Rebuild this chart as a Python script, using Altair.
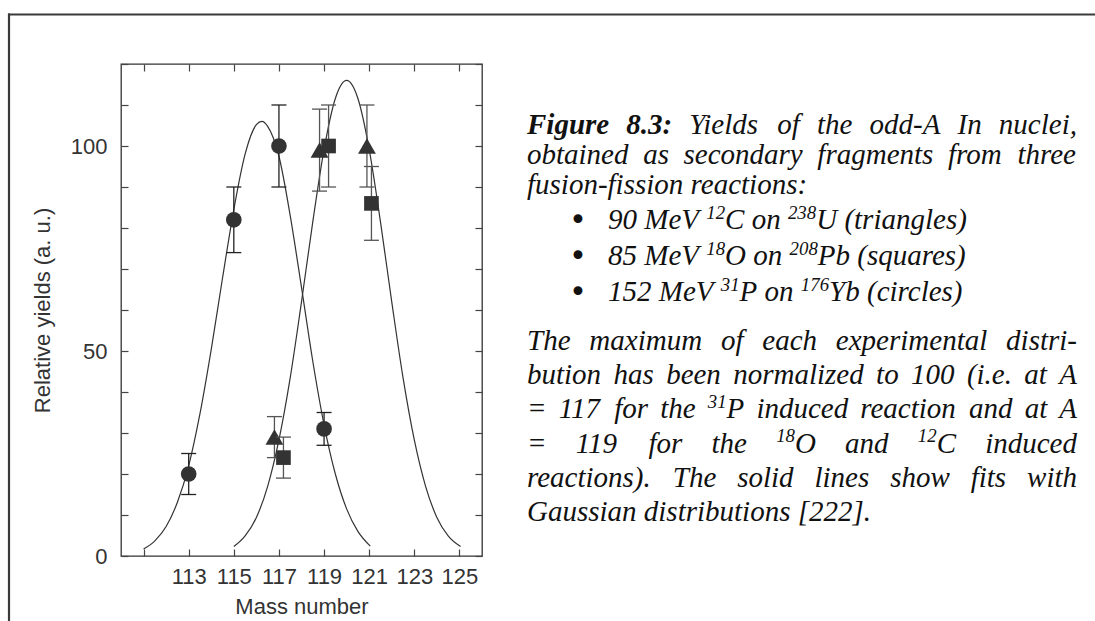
import altair as alt
import pandas as pd

# ---------------- data ----------------
circ_mass = [113, 115, 117, 119]
circ_yield = [20, 82, 100, 31]
circ_lo = [15, 74, 90, 27]
circ_hi = [25, 90, 110, 35]

tri_mass = [116.8, 118.8, 120.9]
tri_yield = [29, 99, 100]
tri_lo = [24, 89, 90]
tri_hi = [34, 109, 110]

sq_mass = [117.2, 119.2, 121.1]
sq_yield = [24, 100, 86]
sq_lo = [19, 90, 77]
sq_hi = [29, 110, 95]

fit_p_mass = [111.0, 111.5, 112.0, 112.5, 113.0, 113.5, 114.0, 114.5, 115.0, 115.5, 116.0,
              116.25, 116.5, 117.0, 117.5, 118.0, 118.5, 119.0, 119.5, 120.0, 120.5, 121.05]
fit_p_yield = [1.7, 3.7, 7.2, 13.1, 22.0, 34.7, 50.4, 67.8, 84.5, 98.0, 105.2,
               106.0, 104.8, 97.5, 83.0, 65.5, 47.5, 32.0, 20.0, 11.5, 6.0, 2.4]

fit_oc_mass = [115.0, 115.5, 116.0, 116.5, 117.0, 117.5, 118.0, 118.5, 119.0, 119.5, 120.0,
               120.5, 121.0, 121.5, 122.0, 122.5, 123.0, 123.5, 124.0, 124.5, 125.05]
fit_oc_yield = [2.3, 4.9, 9.4, 17.0, 28.3, 43.5, 62.0, 81.5, 99.2, 111.6, 116.0,
                111.6, 99.2, 81.5, 62.0, 43.5, 28.3, 17.0, 9.4, 4.9, 2.3]

x_ticks = [111, 113, 115, 117, 119, 121, 123, 125]
x_hidden_labels = [111]
y_ticks = [0, 10, 20, 30, 40, 50, 60, 70, 80, 90, 100, 110, 120]
y_labels = [0, 50, 100]
x_domain = [110, 126]
y_domain = [0, 120]

x_title = "Mass number"
y_title = "Relative yields (a. u.)"

caption_para1 = [
    "!Figure !8.3: Yields of the odd-A In nuclei,",
    "obtained as secondary fragments from three",
    "fusion-fission reactions:",
]
caption_bullets = [
    "90 MeV ^12C on ^238U (triangles)",
    "85 MeV ^18O on ^208Pb (squares)",
    "152 MeV ^31P on ^176Yb (circles)",
]
caption_para2 = [
    "The maximum of each experimental distri-",
    "bution has been normalized to 100 (i.e. at A",
    "= 117 for the ^31P induced reaction and at A",
    "= 119 for the ^18O and ^12C induced",
    "reactions). The solid lines show fits with",
    "Gaussian distributions [222].",
]

# ---------------- layout ----------------
PLOT_L, PLOT_T = 121, 64
PLOT_W, PLOT_H = 361, 492
CANVAS_W, CANVAS_H = 1095, 621
INK = "#333333"

F = 29.0
F_SUP = F * 0.65
SUP_RAISE = F * 0.36
TXT_LEFT, TXT_RIGHT = 527, 1077
BULLET_X, BULLET_TXT_X = 569, 608
P1_BASE, P1_STEP = 134, 30
B_BASE, B_STEP = 229, 36
P2_BASE, P2_STEP = 350, 34.2

TI = {' ': 250, '!': 333, '(': 333, ')': 333, ',': 250, '-': 333, '.': 250, '/': 278,
      ':': 333, ';': 333, '=': 675, '[': 389, ']': 389,
      'A': 611, 'B': 611, 'C': 667, 'D': 722, 'E': 611, 'F': 611, 'G': 722, 'H': 722,
      'I': 333, 'J': 444, 'K': 667, 'L': 556, 'M': 833, 'N': 667, 'O': 722, 'P': 611,
      'Q': 722, 'R': 611, 'S': 500, 'T': 556, 'U': 722, 'V': 611, 'W': 833, 'X': 611,
      'Y': 556, 'Z': 556,
      'a': 500, 'b': 500, 'c': 444, 'd': 500, 'e': 444, 'f': 278, 'g': 500, 'h': 500,
      'i': 278, 'j': 278, 'k': 444, 'l': 278, 'm': 722, 'n': 500, 'o': 500, 'p': 500,
      'q': 500, 'r': 389, 's': 389, 't': 278, 'u': 500, 'v': 444, 'w': 667, 'x': 444,
      'y': 444, 'z': 389}
for d in "0123456789":
    TI[d] = 500
TBI = dict(TI)
TBI.update({'F': 667, 'u': 556, ':': 333})


def runs_of(word):
    if word.startswith("!"):
        return [("b", word[1:])]
    if word.startswith("^"):
        i = 1
        while i < len(word) and word[i].isdigit():
            i += 1
        return [("s", word[1:i]), ("n", word[i:])]
    return [("n", word)]


def run_w(kind, s):
    table = TBI if kind == "b" else TI
    size = F_SUP if kind == "s" else F
    return sum(table.get(c, 500) for c in s) * size / 1000.0


text_rows = []


def place(line, x0, x1, base, justify):
    words = [runs_of(w) for w in line.split(" ")]
    widths = [sum(run_w(k, s) for k, s in w) for w in words]
    if justify and len(words) > 1:
        gap = (x1 - x0 - sum(widths)) / (len(words) - 1)
    else:
        gap = F * 0.25
    x = x0
    for w, ww in zip(words, widths):
        for k, s in w:
            yb = base - SUP_RAISE if k == "s" else base
            text_rows.append({"t": s, "x": x - PLOT_L, "y": yb - PLOT_T, "k": k})
            x += run_w(k, s)
        x += gap


for i, line in enumerate(caption_para1):
    place(line, TXT_LEFT, TXT_RIGHT, P1_BASE + i * P1_STEP, i < len(caption_para1) - 1)
for i, line in enumerate(caption_bullets):
    base = B_BASE + i * B_STEP
    text_rows.append({"t": "\u2022", "x": BULLET_X - PLOT_L, "y": base + 1 - PLOT_T, "k": "u"})
    place(line, BULLET_TXT_X, TXT_RIGHT, base, False)
for i, line in enumerate(caption_para2):
    place(line, TXT_LEFT, TXT_RIGHT, P2_BASE + i * P2_STEP, i < len(caption_para2) - 1)

text_df = pd.DataFrame(text_rows)

# ---------------- tables ----------------
curves = pd.concat([
    pd.DataFrame({"mass": fit_p_mass, "yield": fit_p_yield, "fit": "P"}),
    pd.DataFrame({"mass": fit_oc_mass, "yield": fit_oc_yield, "fit": "OC"}),
])
circ_df = pd.DataFrame({"mass": circ_mass, "yield": circ_yield, "lo": circ_lo, "hi": circ_hi})
tri_df = pd.DataFrame({"mass": tri_mass, "yield": tri_yield, "lo": tri_lo, "hi": tri_hi})
sq_df = pd.DataFrame({"mass": sq_mass, "yield": sq_yield, "lo": sq_lo, "hi": sq_hi})

xs = alt.Scale(domain=x_domain, nice=False, zero=False)
ys = alt.Scale(domain=y_domain, nice=False, zero=False)

x_label_expr = " || ".join(f"datum.value == {v}" for v in x_hidden_labels) + " ? '' : datum.label"
y_label_expr = "(" + " || ".join(f"datum.value == {v}" for v in y_labels) + ") ? datum.label : ''"

common_axis = dict(offset=-7, tickSize=7, tickWidth=1.2, tickColor="#444", domain=False, grid=False,
                   labelFont="Liberation Sans", labelFontSize=22, labelColor=INK,
                   titleFont="Liberation Sans", titleFontSize=22, titleFontWeight="normal",
                   titleColor=INK)

bottom_axis = alt.Axis(orient="bottom", values=x_ticks, labelExpr=x_label_expr, labelFlush=False,
                       labelPadding=10, title=x_title, titlePadding=9, **common_axis)
left_axis = alt.Axis(orient="left", values=y_ticks, labelExpr=y_label_expr, labelPadding=14,
                     title=y_title, titlePadding=16, **common_axis)
top_axis = alt.Axis(orient="top", values=x_ticks, labels=False, title=None, **common_axis)
right_axis = alt.Axis(orient="right", values=y_ticks, labels=False, title=None, **common_axis)

curve_layer = alt.Chart(curves).mark_line(color=INK, strokeWidth=1.2, interpolate="monotone").encode(
    x=alt.X("mass:Q", scale=xs, axis=bottom_axis),
    y=alt.Y("yield:Q", scale=ys, axis=left_axis),
    detail="fit:N",
)
mirror_layer = alt.Chart(curves).mark_line(opacity=0).encode(
    x=alt.X("mass:Q", scale=xs, axis=top_axis),
    y=alt.Y("yield:Q", scale=ys, axis=right_axis),
    detail="fit:N",
)


def series(df, shape, size, bar_color):
    base = alt.Chart(df)
    X = alt.X("mass:Q", scale=xs, axis=None)
    bar = base.mark_rule(color=bar_color, strokeWidth=1.3).encode(
        x=X, y=alt.Y("lo:Q", scale=ys, axis=None), y2="hi:Q")
    cap_lo = base.mark_rule(color=bar_color, strokeWidth=1.3, xOffset=-7.5, x2Offset=7.5).encode(
        x=X, x2="mass:Q", y=alt.Y("lo:Q", scale=ys, axis=None))
    cap_hi = base.mark_rule(color=bar_color, strokeWidth=1.3, xOffset=-7.5, x2Offset=7.5).encode(
        x=X, x2="mass:Q", y=alt.Y("hi:Q", scale=ys, axis=None))
    pts = base.mark_point(shape=shape, filled=True, size=size, color=INK, opacity=1).encode(
        x=X, y=alt.Y("yield:Q", scale=ys, axis=None))
    return [bar, cap_lo, cap_hi, pts]


one = pd.DataFrame({"a": [0]})
frame_top = alt.Chart(one).mark_rule(color="#3a3a3a", strokeWidth=2.2).encode(
    x=alt.value(8 - PLOT_L), x2=alt.value(CANVAS_W - PLOT_L), y=alt.value(14.5 - PLOT_T))
frame_left = alt.Chart(one).mark_rule(color="#3a3a3a", strokeWidth=2.2).encode(
    x=alt.value(9 - PLOT_L), y=alt.value(13.5 - PLOT_T), y2=alt.value(CANVAS_H - PLOT_T))

TX = alt.X("x:Q", scale=None, axis=None)
TY = alt.Y("y:Q", scale=None, axis=None)


def text_layer(kind, **kw):
    return alt.Chart(text_df).transform_filter(alt.datum.k == kind).mark_text(
        align="left", baseline="alphabetic", color="#111111", **kw).encode(x=TX, y=TY, text="t:N")


texts = [
    text_layer("n", font="Liberation Serif", fontStyle="italic", fontSize=F),
    text_layer("b", font="Liberation Serif", fontStyle="italic", fontWeight="bold", fontSize=F),
    text_layer("s", font="Liberation Serif", fontStyle="italic", fontSize=F_SUP),
    text_layer("u", font="DejaVu Sans", fontSize=F * 1.05),
]

layers = [curve_layer, mirror_layer]
layers += series(circ_df, "circle", 245, "#222222")
layers += series(tri_df, "triangle-up", 320, "#555555")
layers += series(sq_df, "square", 215, "#555555")
layers += [frame_top, frame_left] + texts

chart = alt.layer(*layers).resolve_axis(x="independent", y="independent").properties(
    width=PLOT_W, height=PLOT_H,
    autosize=alt.AutoSizeParams(type="none"),
    padding={"left": PLOT_L, "top": PLOT_T, "right": CANVAS_W - PLOT_L - PLOT_W,
             "bottom": CANVAS_H - PLOT_T - PLOT_H},
    background="white",
).configure_view(stroke=INK, strokeWidth=1.3)

chart.save("out.html", embed_options={"renderer": "svg", "actions": False})
